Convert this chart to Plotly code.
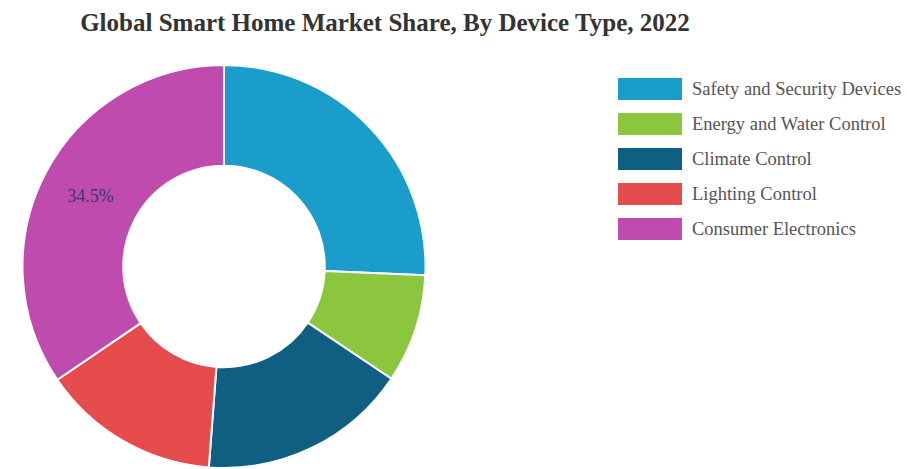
import plotly.graph_objects as go

categories = ["Safety and Security Devices", "Energy and Water Control",
              "Climate Control", "Lighting Control", "Consumer Electronics"]
shares = [25.7, 8.7, 16.8, 14.3, 34.5]
shown_labels = ["", "", "", "", "34.5%"]
colors = ["#1b9dcb", "#8cc63e", "#0e5f81", "#e64c4c", "#c04bae"]

W, H = 907, 469
fig = go.Figure(go.Pie(
    labels=categories, values=shares, text=shown_labels,
    textinfo="text", textposition="inside", insidetextorientation="horizontal",
    hole=0.5, sort=False, direction="clockwise", rotation=0,
    marker=dict(colors=colors, line=dict(color="white", width=2)),
    textfont=dict(family="Liberation Serif", size=18, color="#3a3a66"),
    domain=dict(x=[22 / W, 426 / W], y=[1 - 468 / H, 1 - 65 / H]),
    showlegend=False,
))

# custom legend with large rectangular swatches
shapes, annotations = [], []
x0, x1, y_first, step, hh = 618, 682, 89, 35, 11
for i, (name, col) in enumerate(zip(categories, colors)):
    yc = y_first + i * step
    shapes.append(dict(type="rect", xref="paper", yref="paper",
                       x0=x0 / W, x1=x1 / W, y0=1 - (yc + hh) / H, y1=1 - (yc - hh) / H,
                       fillcolor=col, line=dict(width=0)))
    annotations.append(dict(text=name, xref="paper", yref="paper", x=690 / W, y=1 - yc / H,
                            xanchor="left", yanchor="middle", showarrow=False,
                            font=dict(family="Liberation Serif", size=18.5, color="#555555")))

fig.update_layout(
    width=W, height=H,
    margin=dict(l=0, r=0, t=0, b=0),
    paper_bgcolor="white", plot_bgcolor="white",
    title=dict(text="<b>Global Smart Home Market Share, By Device Type, 2022</b>",
               x=385 / W, xanchor="center", y=1 - 22 / H, yanchor="middle",
               font=dict(family="Liberation Serif", size=25, color="#333333")),
    shapes=shapes, annotations=annotations,
)

fig.write_html("out.html", config={"displayModeBar": False},
               post_script="document.body.style.margin='0';")
